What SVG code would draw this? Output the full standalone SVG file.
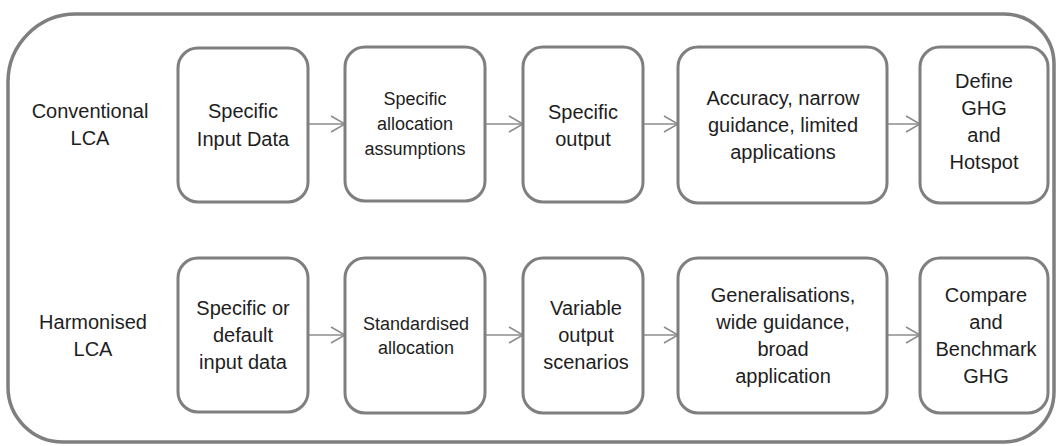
<svg xmlns="http://www.w3.org/2000/svg" width="1058" height="446" viewBox="0 0 1058 446">
<defs>
<style>
.frame{fill:none;stroke:#7f7f7f;stroke-width:3.5}
.box{fill:#ffffff;stroke:#7f7f7f;stroke-width:3}
.lbl{font-family:"Liberation Sans",Arial,sans-serif;font-size:20px;fill:#1e1e1e;text-anchor:middle}
.sm{font-size:18px}
.conn{fill:none;stroke:#8c8c8c;stroke-width:1.5;marker-end:url(#arr)}
</style>
<marker id="arr" markerUnits="userSpaceOnUse" markerWidth="18" markerHeight="20" viewBox="0 0 18 20" refX="16" refY="10" orient="auto">
<path d="M2,2 L16,10 L2,18" fill="none" stroke="#8c8c8c" stroke-width="1.5"/>
</marker>
</defs>
<rect width="1058" height="446" fill="#ffffff"/>
<path class="frame" d="M76,14 H1004 A50,50 0 0 1 1054,64 V392 A50,50 0 0 1 1004,442 H63 A55,55 0 0 1 8,387 V82 A68,68 0 0 1 76,14 Z"/>

<g id="label-conventional">
<text class="lbl" x="90" y="118">Conventional</text>
<text class="lbl" x="90" y="145">LCA</text>
</g>
<g id="label-harmonised">
<text class="lbl" x="93" y="329">Harmonised</text>
<text class="lbl" x="93" y="356">LCA</text>
</g>

<g id="connectors">
<line class="conn" x1="308" y1="124" x2="345" y2="124"/>
<line class="conn" x1="485" y1="124" x2="523" y2="124"/>
<line class="conn" x1="643" y1="124" x2="678" y2="124"/>
<line class="conn" x1="887" y1="124" x2="920" y2="124"/>
<line class="conn" x1="308" y1="335" x2="345" y2="335"/>
<line class="conn" x1="485" y1="335" x2="523" y2="335"/>
<line class="conn" x1="643" y1="335" x2="678" y2="335"/>
<line class="conn" x1="887" y1="335" x2="920" y2="335"/>
</g>

<g id="n-specific-input">
<rect class="box" x="178" y="48" width="130" height="154" rx="20"/>
<text class="lbl" x="243" y="118">Specific</text>
<text class="lbl" x="243" y="146">Input Data</text>
</g>
<g id="n-specific-allocation">
<rect class="box" x="345" y="47" width="140" height="154" rx="20"/>
<text class="lbl sm" x="415" y="105">Specific</text>
<text class="lbl sm" x="415" y="130">allocation</text>
<text class="lbl sm" x="415" y="155">assumptions</text>
</g>
<g id="n-specific-output">
<rect class="box" x="523" y="47" width="120" height="155" rx="20"/>
<text class="lbl" x="583" y="119">Specific</text>
<text class="lbl" x="583" y="146">output</text>
</g>
<g id="n-accuracy">
<rect class="box" x="678" y="47" width="209" height="156" rx="20"/>
<text class="lbl" x="783" y="105">Accuracy, narrow</text>
<text class="lbl" x="783" y="132">guidance, limited</text>
<text class="lbl" x="783" y="159">applications</text>
</g>
<g id="n-define-ghg">
<rect class="box" x="920" y="47" width="128" height="156" rx="20"/>
<text class="lbl" x="984" y="88">Define</text>
<text class="lbl" x="984" y="115">GHG</text>
<text class="lbl" x="984" y="142">and</text>
<text class="lbl" x="984" y="169">Hotspot</text>
</g>

<g id="n-default-input">
<rect class="box" x="178" y="258" width="130" height="154" rx="20"/>
<text class="lbl" x="243" y="315">Specific or</text>
<text class="lbl" x="243" y="342">default</text>
<text class="lbl" x="243" y="369">input data</text>
</g>
<g id="n-standardised">
<rect class="box" x="345" y="258" width="140" height="155" rx="20"/>
<text class="lbl sm" x="416" y="330">Standardised</text>
<text class="lbl sm" x="416" y="354">allocation</text>
</g>
<g id="n-variable-output">
<rect class="box" x="523" y="258" width="120" height="155" rx="20"/>
<text class="lbl" x="586" y="315">Variable</text>
<text class="lbl" x="586" y="342">output</text>
<text class="lbl" x="586" y="369">scenarios</text>
</g>
<g id="n-generalisations">
<rect class="box" x="678" y="258" width="209" height="155" rx="20"/>
<text class="lbl" x="783" y="302">Generalisations,</text>
<text class="lbl" x="783" y="329">wide guidance,</text>
<text class="lbl" x="783" y="356">broad</text>
<text class="lbl" x="783" y="383">application</text>
</g>
<g id="n-compare">
<rect class="box" x="920" y="258" width="128" height="155" rx="20"/>
<text class="lbl" x="986" y="302">Compare</text>
<text class="lbl" x="986" y="329">and</text>
<text class="lbl" x="986" y="356">Benchmark</text>
<text class="lbl" x="986" y="383">GHG</text>
</g>
</svg>
